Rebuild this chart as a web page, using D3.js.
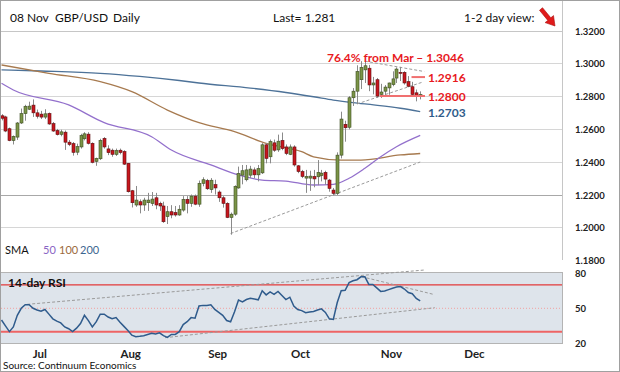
<!DOCTYPE html>
<html>
<head>
<meta charset="utf-8">
<script src="https://cdn.jsdelivr.net/npm/d3@7"></script>
<style>
  body { margin: 0; background: #fff; }
  svg { display: block; }
  text { font-family: Lato, "Open Sans", sans-serif; }
</style>
</head>
<body>
<div id="chart"></div>
<script>
// GBP/USD daily, first candle 13 Jun 2019, last 08 Nov 2019
const firstDay = new Date(2019, 5, 13)
const lastDay = new Date(2019, 11, 31)

const openP = [1.2680, 1.2673, 1.2601, 1.2529, 1.2550, 1.2636, 1.2693, 1.2720, 1.2745, 1.2698,
  1.2690, 1.2672, 1.2694, 1.2632, 1.2590, 1.2567, 1.2580, 1.2519, 1.2510, 1.2458,
  1.2490, 1.2540, 1.2568, 1.2512, 1.2402, 1.2418, 1.2542, 1.2478, 1.2470, 1.2445,
  1.2470, 1.2462, 1.2390, 1.2223, 1.2136, 1.2156, 1.2136, 1.2150, 1.2145, 1.2180,
  1.2146, 1.2130, 1.2065, 1.2095, 1.2090, 1.2075, 1.2105, 1.2170, 1.2146, 1.2190,
  1.2141, 1.2268, 1.2285, 1.2230, 1.2260, 1.2215, 1.2180, 1.2146, 1.2060, 1.2080,
  1.2240, 1.2318, 1.2290, 1.2318, 1.2350, 1.2320, 1.2332, 1.2503, 1.2430, 1.2515,
  1.2472, 1.2530, 1.2490, 1.2445, 1.2490, 1.2375, 1.2340, 1.2300, 1.2300, 1.2310,
  1.2308, 1.2315, 1.2335, 1.2288, 1.2227, 1.2207, 1.2440, 1.2628, 1.2610, 1.2790,
  1.2830, 1.2900, 1.2960, 1.2970, 1.2868, 1.2900, 1.2810, 1.2830, 1.2850, 1.2870,
  1.2910, 1.2945, 1.2945, 1.2888, 1.2857, 1.2820, 1.2805]
const highP = [1.2690, 1.2680, 1.2608, 1.2560, 1.2642, 1.2724, 1.2747, 1.2766, 1.2780, 1.2718,
  1.2710, 1.2720, 1.2700, 1.2642, 1.2600, 1.2595, 1.2590, 1.2532, 1.2520, 1.2510,
  1.2570, 1.2580, 1.2580, 1.2518, 1.2425, 1.2540, 1.2550, 1.2500, 1.2480, 1.2480,
  1.2480, 1.2470, 1.2392, 1.2228, 1.2252, 1.2170, 1.2180, 1.2210, 1.2215, 1.2210,
  1.2156, 1.2156, 1.2130, 1.2135, 1.2130, 1.2135, 1.2190, 1.2190, 1.2200, 1.2200,
  1.2285, 1.2305, 1.2295, 1.2300, 1.2290, 1.2225, 1.2190, 1.2153, 1.2090, 1.2256,
  1.2370, 1.2380, 1.2380, 1.2375, 1.2365, 1.2380, 1.2513, 1.2513, 1.2535, 1.2535,
  1.2565, 1.2578, 1.2505, 1.2505, 1.2500, 1.2380, 1.2350, 1.2350, 1.2345, 1.2350,
  1.2410, 1.2350, 1.2345, 1.2295, 1.2240, 1.2457, 1.2705, 1.2650, 1.2800, 1.2849,
  1.2988, 1.3013, 1.3013, 1.2990, 1.2917, 1.2910, 1.2875, 1.2867, 1.2882, 1.2951,
  1.2975, 1.2978, 1.2952, 1.2922, 1.2887, 1.2840, 1.2829]
const lowP = [1.2652, 1.2580, 1.2525, 1.2505, 1.2533, 1.2630, 1.2650, 1.2715, 1.2673, 1.2663,
  1.2660, 1.2660, 1.2625, 1.2582, 1.2560, 1.2555, 1.2472, 1.2495, 1.2437, 1.2440,
  1.2480, 1.2530, 1.2505, 1.2390, 1.2375, 1.2410, 1.2480, 1.2440, 1.2430, 1.2435,
  1.2445, 1.2380, 1.2212, 1.2121, 1.2125, 1.2085, 1.2100, 1.2100, 1.2130, 1.2110,
  1.2100, 1.2027, 1.2020, 1.2055, 1.2065, 1.2070, 1.2095, 1.2085, 1.2125, 1.2135,
  1.2125, 1.2250, 1.2228, 1.2210, 1.2200, 1.2155, 1.2120, 1.2056, 1.1955, 1.2070,
  1.2235, 1.2262, 1.2280, 1.2300, 1.2300, 1.2280, 1.2325, 1.2390, 1.2390, 1.2460,
  1.2460, 1.2470, 1.2440, 1.2440, 1.2370, 1.2330, 1.2300, 1.2210, 1.2222, 1.2244,
  1.2257, 1.2280, 1.2260, 1.2217, 1.2195, 1.2197, 1.2420, 1.2522, 1.2597, 1.2740,
  1.2753, 1.2843, 1.2880, 1.2830, 1.2811, 1.2790, 1.2789, 1.2806, 1.2808, 1.2860,
  1.2880, 1.2892, 1.2870, 1.2854, 1.2800, 1.2768, 1.2780]
const closeP = [1.2665, 1.2587, 1.2529, 1.2554, 1.2636, 1.2693, 1.2738, 1.2739, 1.2698, 1.2677,
  1.2672, 1.2692, 1.2630, 1.2587, 1.2565, 1.2582, 1.2519, 1.2505, 1.2457, 1.2492,
  1.2560, 1.2570, 1.2512, 1.2396, 1.2420, 1.2530, 1.2490, 1.2455, 1.2445, 1.2468,
  1.2456, 1.2385, 1.2217, 1.2150, 1.2166, 1.2136, 1.2166, 1.2166, 1.2172, 1.2136,
  1.2130, 1.2034, 1.2095, 1.2075, 1.2075, 1.2110, 1.2170, 1.2146, 1.2190, 1.2141,
  1.2268, 1.2290, 1.2235, 1.2287, 1.2240, 1.2180, 1.2146, 1.2060, 1.2080, 1.2250,
  1.2328, 1.2345, 1.2350, 1.2355, 1.2320, 1.2358, 1.2503, 1.2420, 1.2523, 1.2470,
  1.2525, 1.2480, 1.2450, 1.2490, 1.2380, 1.2340, 1.2310, 1.2310, 1.2312, 1.2295,
  1.2335, 1.2330, 1.2294, 1.2237, 1.2207, 1.2440, 1.2660, 1.2607, 1.2790, 1.2830,
  1.2950, 1.2975, 1.2985, 1.2868, 1.2880, 1.2800, 1.2825, 1.2855, 1.2880, 1.2905,
  1.2965, 1.2940, 1.2880, 1.2860, 1.2810, 1.2800, 1.2810]

// 14-day RSI, one value per candle
const rsiVals = [40, 35, 30, 34, 44, 50, 53, 53, 50, 48.5,
  47.5, 49, 45, 41, 39, 37.5, 34, 32.5, 30, 33,
  37, 44, 39.5, 34, 38.5, 45, 45, 42.5, 41, 42,
  38, 34.5, 31, 27, 25.7, 26, 26.5, 27.5, 28.5, 28,
  29, 26.5, 25, 27.6, 27.6, 30, 36, 38.5, 42, 41.5,
  52, 52.5, 52.5, 53, 49, 46.5, 44, 39.5, 38.5, 47,
  57, 55.5, 57.5, 58.5, 58, 57.3, 65, 61.5, 64, 62,
  64.5, 61, 57.5, 59.5, 52, 49, 48, 46.3, 46.8, 47.3,
  48.5, 49.5, 46.5, 41, 40.5, 55, 65, 65.4, 72, 73.6,
  74.5, 77, 77, 70.5, 70.5, 67.5, 64.5, 64.8, 66, 67.2,
  68.2, 68.6, 66.5, 63.5, 62.5, 58.5, 56.4]

// moving averages read at a few candles: [candle index, value]
const sma50Pts = [[0, 1.2878], [3, 1.2837], [17, 1.2746], [26, 1.2638], [38, 1.2552], [43, 1.2471],
  [53, 1.2380], [60, 1.2319], [66, 1.2288], [72, 1.2282], [79, 1.2258], [84, 1.2262], [88, 1.2299],
  [92, 1.2360], [96, 1.2430], [100, 1.2491], [106, 1.2560]]
const sma100Pts = [[0, 1.2990], [12, 1.2939], [25, 1.2888], [33, 1.2827], [42, 1.2715], [50, 1.2638],
  [59, 1.2583], [67, 1.2512], [76, 1.2461], [79, 1.2430], [86, 1.2410], [91, 1.2410], [101, 1.2441],
  [106, 1.2450]]
const sma200Pts = [[0, 1.2960], [10, 1.2953], [25, 1.2939], [35, 1.2920], [45, 1.2895], [50, 1.2880],
  [63, 1.2849], [72, 1.2822], [79, 1.2796], [84, 1.2776], [92, 1.2752], [101, 1.2726], [106, 1.2705]]

const priceTicks = [1.32, 1.30, 1.28, 1.26, 1.24, 1.22, 1.20, 1.18]
const rsiTicks = [80, 50, 20]
const monthNames = ['Jul', 'Aug', 'Sep', 'Oct', 'Nov', 'Dec']

// dotted trend lines, [candle index, value] end points
const priceTrends = [
  [[58, 1.1962], [106, 1.2398]],
  [[92, 1.3013], [107, 1.2950]],
  [[90, 1.2752], [106.7, 1.2886]]
]
const rsiTrends = [
  [[6.5, 53.4], [107, 82.8]],
  [[41.4, 24.8], [109.7, 50.5]],
  [[91.2, 77.1], [109.3, 62]]
]

// marked levels
const levelVals = [1.2916, 1.2800]
const levelFrom = [103.8, 95.8]
const smaLast = 1.2703
const fiboText = '76.4% from Mar \u2013 1.3046'
const fiboVal = 1.3046

const W = 620
const H = 372
const plotR = 562

const svg = d3.select('#chart').append('svg')
  .attr('width', W)
  .attr('height', H)

svg.append('rect').attr('width', W).attr('height', H).attr('fill', '#fff')

// scales
const x = d3.scaleLinear().domain([0, 106]).range([1.5, 420.2])
const y = d3.scaleLinear().domain([1.18, 1.32]).range([260.1, 30.5])
const yr = d3.scaleLinear().domain([20, 80]).range([343.3, 273.3])

// trading days, used for the month labels
const days = d3.timeDay.range(firstDay, lastDay).filter(d => d.getDay() % 6 !== 0)

// frame
svg.append('line').attr('x1', 0).attr('x2', plotR).attr('y1', 31.5).attr('y2', 31.5)
  .attr('stroke', '#c6c6c6')
svg.append('line').attr('x1', plotR + 0.5).attr('x2', plotR + 0.5).attr('y1', 0).attr('y2', 260)
  .attr('stroke', '#c6c6c6')

// grid
svg.append('g').selectAll('line')
  .data(priceTicks.filter(t => t < 1.315 && t > 1.185))
  .join('line')
  .attr('x1', 1).attr('x2', plotR)
  .attr('y1', d => Math.round(y(d)) + 0.5)
  .attr('y2', d => Math.round(y(d)) + 0.5)
  .attr('stroke', d => Math.abs(d - 1.22) < 1e-6 ? '#a8a8a8' : '#d6d6d6')

// moving averages
const smaLine = d3.line()
  .x(d => x(d[0]))
  .y(d => y(d[1]))
  .curve(d3.curveMonotoneX)
const smas = [
  { pts: sma200Pts, color: '#4d7298' },
  { pts: sma100Pts, color: '#a77a4f' },
  { pts: sma50Pts, color: '#9370cc' }
]
svg.append('g').selectAll('path')
  .data(smas)
  .join('path')
  .attr('d', d => smaLine(d.pts))
  .attr('fill', 'none')
  .attr('stroke', d => d.color)
  .attr('stroke-width', 1.3)

// trend lines
const trendG = svg.append('g')
trendG.selectAll('line')
  .data(priceTrends)
  .join('line')
  .attr('x1', d => x(d[0][0])).attr('y1', d => y(d[0][1]))
  .attr('x2', d => x(d[1][0])).attr('y2', d => y(d[1][1]))
  .attr('stroke', '#9a9a9a')
  .attr('stroke-dasharray', '3,2')

// candles
const candles = closeP.map((c, i) => ({ i, o: openP[i], h: highP[i], l: lowP[i], c }))
const cg = svg.append('g').selectAll('g')
  .data(candles)
  .join('g')
cg.append('line')
  .attr('x1', d => Math.round(x(d.i)) + 0.5)
  .attr('x2', d => Math.round(x(d.i)) + 0.5)
  .attr('y1', d => y(d.h))
  .attr('y2', d => y(d.l))
  .attr('stroke', '#8a8a8a')
cg.append('rect')
  .attr('x', d => Math.round(x(d.i)) - 1)
  .attr('y', d => y(Math.max(d.o, d.c)))
  .attr('width', 3)
  .attr('height', d => Math.max(1, Math.abs(y(d.o) - y(d.c))))
  .attr('fill', d => d.c >= d.o ? '#7b9447' : '#c8161d')
  .attr('stroke', d => d.c >= d.o ? '#3d4d22' : '#5c1012')
  .attr('stroke-width', 0.6)

// levels
svg.append('g').selectAll('line')
  .data(levelVals)
  .join('line')
  .attr('x1', (d, i) => x(levelFrom[i]))
  .attr('x2', 425)
  .attr('y1', d => y(d))
  .attr('y2', d => y(d))
  .attr('stroke', '#f07070')
  .attr('stroke-width', 2)
svg.append('g').selectAll('text')
  .data(levelVals)
  .join('text')
  .attr('x', 428)
  .attr('y', d => y(d) + 4.5)
  .attr('fill', '#e8191e')
  .attr('font-size', 12)
  .attr('font-weight', 'bold')
  .text(d => d.toFixed(4))
svg.append('text')
  .attr('x', 428)
  .attr('y', y(smaLast) + 4.5)
  .attr('fill', '#2f5c8a')
  .attr('font-size', 12)
  .attr('font-weight', 'bold')
  .text(smaLast.toFixed(4))
svg.append('text')
  .attr('x', 327)
  .attr('y', y(fiboVal) + 6)
  .attr('fill', '#e8191e')
  .attr('font-size', 12)
  .attr('font-weight', 'bold')
  .text(fiboText)

// right axis
svg.append('g').selectAll('text')
  .data(priceTicks)
  .join('text')
  .attr('x', 575)
  .attr('y', d => y(d) + 4)
  .attr('font-family', 'DejaVu Sans')
  .attr('font-size', 9.5)
  .attr('font-weight', 'bold')
  .attr('fill', '#222')
  .text(d => d.toFixed(4))
svg.append('g').selectAll('text')
  .data(rsiTicks)
  .join('text')
  .attr('x', 575)
  .attr('y', d => yr(d) + 4)
  .attr('font-family', 'DejaVu Sans')
  .attr('font-size', 9.5)
  .attr('font-weight', 'bold')
  .attr('fill', '#222')
  .text(d => d)

// SMA legend
const legendItems = [
  { label: 'SMA', x: 5, color: '#111' },
  { label: '50', x: 43, color: '#8a64c4' },
  { label: '100', x: 59, color: '#9c6a3c' },
  { label: '200', x: 80, color: '#3d6690' }
]
svg.append('g').selectAll('text')
  .data(legendItems)
  .join('text')
  .attr('x', d => d.x)
  .attr('y', 254)
  .attr('font-size', 11)
  .attr('fill', d => d.color)
  .text(d => d.label)

// RSI panel
const rsiG = svg.append('g')
rsiG.append('rect')
  .attr('x', 0.5).attr('y', 272.5)
  .attr('width', plotR).attr('height', 71)
  .attr('fill', '#dee4eb')
  .attr('stroke', '#b4b4b4')
rsiG.append('line')
  .attr('x1', 1).attr('x2', plotR).attr('y1', yr(70)).attr('y2', yr(70))
  .attr('stroke', '#e23a3a').attr('stroke-width', 1.3)
rsiG.append('line')
  .attr('x1', 1).attr('x2', plotR).attr('y1', yr(30)).attr('y2', yr(30))
  .attr('stroke', '#ee6464').attr('stroke-width', 2)
rsiG.append('line')
  .attr('x1', 1).attr('x2', plotR).attr('y1', yr(50)).attr('y2', yr(50))
  .attr('stroke', '#f2a0a0').attr('stroke-dasharray', '1,2')
rsiG.selectAll('line.trend')
  .data(rsiTrends)
  .join('line')
  .attr('class', 'trend')
  .attr('x1', d => x(d[0][0])).attr('y1', d => yr(d[0][1]))
  .attr('x2', d => x(d[1][0])).attr('y2', d => yr(d[1][1]))
  .attr('stroke', '#9a9a9a')
  .attr('stroke-dasharray', '3,2')
rsiG.append('path')
  .datum(rsiVals)
  .attr('d', d3.line().x((d, i) => x(i)).y(d => yr(d)))
  .attr('fill', 'none')
  .attr('stroke', '#2f5b8c')
  .attr('stroke-width', 1.5)
rsiG.append('text')
  .attr('x', 8).attr('y', 287)
  .attr('font-size', 12)
  .attr('font-weight', 'bold')
  .attr('fill', '#111')
  .text('14-day RSI')

// month labels, centred a little before the first trading day
const months = monthNames.map((name, k) => ({
  name,
  idx: days.findIndex(d => d.getMonth() === 6 + k)
}))
svg.append('g').selectAll('text')
  .data(months)
  .join('text')
  .attr('x', d => x(d.idx) - 9)
  .attr('y', 358)
  .attr('text-anchor', 'middle')
  .attr('font-size', 11.5)
  .attr('font-weight', 'bold')
  .attr('fill', '#222')
  .text(d => d.name)

svg.append('text')
  .attr('x', 3).attr('y', 369)
  .attr('font-size', 10)
  .attr('fill', '#111')
  .text('Source: Continuum Economics')

// header
const head = svg.append('g').attr('font-size', 12).attr('fill', '#111')
head.append('text').attr('x', 10).attr('y', 22).text('08 Nov')
head.append('text').attr('x', 55).attr('y', 22).text('GBP/USD')
head.append('text').attr('x', 113).attr('y', 22).text('Daily')
head.append('text').attr('x', 273).attr('y', 22).text('Last= ' + closeP[closeP.length - 1].toFixed(3))
head.append('text').attr('x', 464).attr('y', 22).text('1-2 day view:')
// red view arrow
svg.append('path')
  .attr('d', 'M542.5,7.7 L550.8,17.8 L553.5,15.6 L555,26 L545.1,22.6 L547.8,20.4 L539.5,10.3 Z')
  .attr('fill', '#e01a1a')
  .attr('stroke', '#a80f0f')
  .attr('stroke-width', 0.6)

// outer border
svg.append('rect')
  .attr('x', 0.5).attr('y', 0.5)
  .attr('width', W - 1).attr('height', H - 1)
  .attr('fill', 'none')
  .attr('stroke', '#a0a0a0')
</script>
</body>
</html>
